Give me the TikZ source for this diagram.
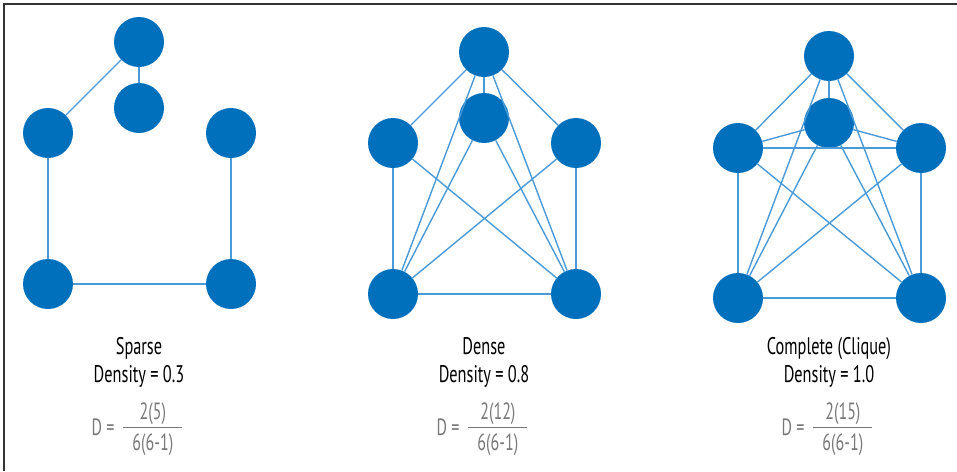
\documentclass[tikz,border=0pt]{standalone}
\usepackage{fontspec}
\setmainfont{PT Sans}[FakeStretch=0.68]
\usepackage{xcolor}
\definecolor{nodeblue}{RGB}{0,112,188}
\definecolor{edgeblue}{RGB}{74,154,216}
\definecolor{formgray}{RGB}{120,120,120}

\tikzset{
  vertex/.style={circle, fill=nodeblue, draw=none, minimum size=50pt, inner sep=0pt},
  edge/.style={draw=edgeblue, line width=1.4pt},
  caption/.style={anchor=base, font=\fontsize{24}{28}\selectfont, text=black, inner sep=0pt},
  formula/.style={font=\fontsize{23.5}{28}\selectfont, text=formgray, inner sep=0pt}
}
\newcommand{\densfrac}[2]{D =\hspace{9pt}\begin{tabular}{@{\hspace{9pt}}c@{\hspace{9pt}}}#1\\[-1pt]\hline\rule{0pt}{23pt}#2\end{tabular}}

\begin{document}
\begin{tikzpicture}[x=1pt, y=-1pt]
    \useasboundingbox (0,0) rectangle (957,471);
    % frame
    \draw[line width=1.5pt, black!80] (4,471) -- (4,4) -- (957,4);

    % Sparse
    \node[vertex] (st) at (139,42) {};
    \node[vertex] (sm) at (139,108) {};
    \node[vertex] (sl) at (48,133) {};
    \node[vertex] (sr) at (231,133) {};
    \node[vertex] (sbl) at (48,284) {};
    \node[vertex] (sbr) at (231,284) {};
    \draw[edge] (st) -- (sm);
    \draw[edge] (st) -- (sl);
    \draw[edge] (sl) -- (sbl);
    \draw[edge] (sr) -- (sbr);
    \draw[edge] (sbl) -- (sbr);

    % Dense
    \node[vertex] (dt) at (484,52) {};
    \node[vertex] (dm) at (484,118) {};
    \node[vertex] (dl) at (393,143) {};
    \node[vertex] (dr) at (576,143) {};
    \node[vertex] (dbl) at (393,294) {};
    \node[vertex] (dbr) at (576,294) {};
    \draw[edge] (dt) -- (dm);
    \draw[edge] (dt) -- (dl);
    \draw[edge] (dt) -- (dr);
    \draw[edge] (dt) -- (dbl);
    \draw[edge] (dt) -- (dbr);
    \draw[edge] (dm) -- (dbl);
    \draw[edge] (dm) -- (dbr);
    \draw[edge] (dl) -- (dbl);
    \draw[edge] (dl) -- (dbr);
    \draw[edge] (dr) -- (dbl);
    \draw[edge] (dr) -- (dbr);
    \draw[edge] (dbl) -- (dbr);

    % Complete
    \node[vertex] (ct) at (829,56) {};
    \node[vertex] (cm) at (829,123) {};
    \node[vertex] (cl) at (738,148) {};
    \node[vertex] (cr) at (921,148) {};
    \node[vertex] (cbl) at (738,298) {};
    \node[vertex] (cbr) at (921,298) {};
    \draw[edge] (ct) -- (cm);
    \draw[edge] (ct) -- (cl);
    \draw[edge] (ct) -- (cr);
    \draw[edge] (ct) -- (cbl);
    \draw[edge] (ct) -- (cbr);
    \draw[edge] (cm) -- (cl);
    \draw[edge] (cm) -- (cr);
    \draw[edge] (cm) -- (cbl);
    \draw[edge] (cm) -- (cbr);
    \draw[edge] (cl) -- (cr);
    \draw[edge] (cl) -- (cbl);
    \draw[edge] (cl) -- (cbr);
    \draw[edge] (cr) -- (cbl);
    \draw[edge] (cr) -- (cbr);
    \draw[edge] (cbl) -- (cbr);

    % Captions
    \node[caption] (sname) at (139,354) {Sparse};
    \node[caption] (sdens) at (139,382) {Density = 0.3};
    \node[caption] (dname) at (484,354) {Dense};
    \node[caption] (ddens) at (484,382) {Density = 0.8};
    \node[caption] (cname) at (829,354) {Complete (Clique)};
    \node[caption] (cdens) at (829,382) {Density = 1.0};

    % Formulas
    \node[formula] (sform) at (137,429) {\densfrac{2(5)}{6(6-1)}};
    \node[formula] (dform) at (482,429) {\densfrac{2(12)}{6(6-1)}};
    \node[formula] (cform) at (827,429) {\densfrac{2(15)}{6(6-1)}};
\end{tikzpicture}
\end{document}
